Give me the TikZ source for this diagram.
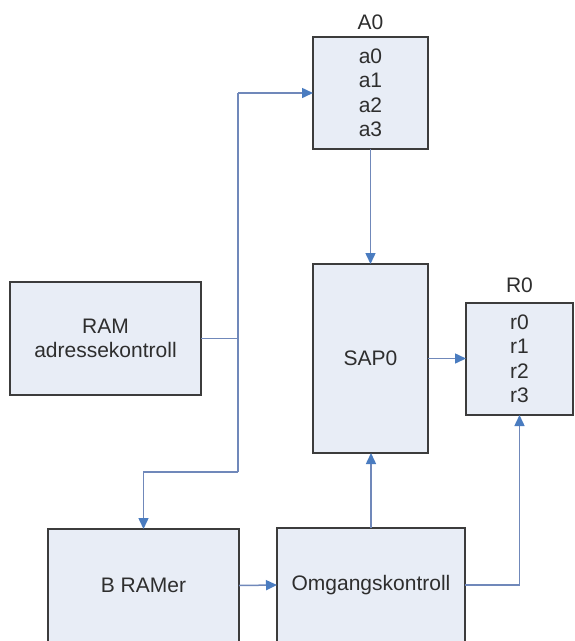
\documentclass[tikz,border=0pt]{standalone}
\usepackage{fontspec}
\setmainfont{Liberation Sans}
\usetikzlibrary{arrows.meta}
\definecolor{boxfill}{HTML}{E8EDF6}
\definecolor{boxline}{HTML}{3C3C3C}
\definecolor{wirecol}{HTML}{7088BA}
\definecolor{tipcol}{HTML}{4A7CC0}
\definecolor{ink}{HTML}{2E2E2E}
\tikzset{
  block/.style={draw=boxline, fill=boxfill, line width=2pt, anchor=north west,
    inner sep=0pt, outer sep=0pt, align=center, text=ink,
    font=\fontsize{21}{24.5}\selectfont},
  tag/.style={text=ink, inner sep=0pt, font=\fontsize{21}{24.5}\selectfont},
  link/.style={draw=wirecol, line width=1.5pt},
  feed/.style={link, -{Triangle[length=11pt,width=10pt,color=tipcol,fill=tipcol]}},
}
\begin{document}
\begin{tikzpicture}[x=1pt,y=-1pt]
\clip (0,0) rectangle (574,641);
\fill[white] (0,0) rectangle (574,641);

% blocks
\node[block, minimum width=115pt, minimum height=112pt] (a0) at (313,37) {a0\\a1\\a2\\a3};
\node[block, minimum width=191pt, minimum height=113pt] (ram) at (10,282) {RAM\\adressekontroll};
\node[block, minimum width=115pt, minimum height=189pt] (sap) at (313,264) {SAP0};
\node[block, minimum width=107pt, minimum height=112pt] (r0) at (466,303) {r0\\r1\\r2\\r3};
\node[block, minimum width=191pt, minimum height=113pt] (bram) at (48,529) {B RAMer};
\node[block, minimum width=188pt, minimum height=114pt] (omg) at (277,528) {Omgangskontroll};

% register names
\node[tag] (a0name) at (370.5,22) {A0};
\node[tag] (r0name) at (519.5,285) {R0};

% address bus from the RAM address control
\coordinate (bustop) at (238,93);
\coordinate (busbot) at (238,472);
\draw[link] (ram.east) -- (ram.east -| bustop);
\draw[link] (bustop) -- (busbot);
\draw[feed] (bustop) -- (a0.west);
\draw[feed] (busbot) -| (bram.north);

% data paths
\draw[feed] (a0.south) -- (sap.north);
\draw[feed] (sap.east) -- (sap.east -| r0.west);
\draw[feed] (bram.east) -- (omg.west);
\draw[feed] (omg.north) -- (omg.north |- sap.south);
\draw[feed] (omg.east) -| (r0.south);
\end{tikzpicture}
\end{document}
